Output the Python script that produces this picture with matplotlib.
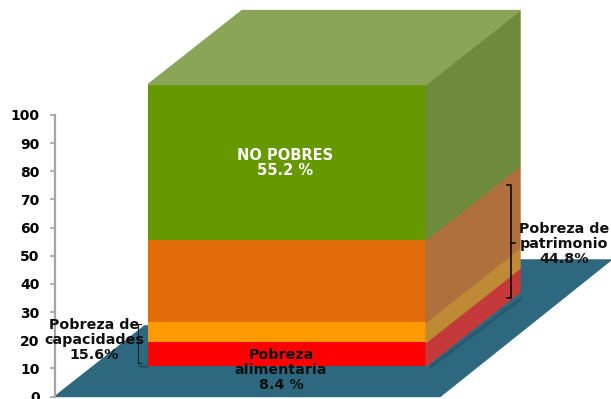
import matplotlib
matplotlib.use("Agg")
import numpy as np
import matplotlib.pyplot as plt
from matplotlib.patches import Polygon

# =====================
# Data
# =====================
segments = ["Pobreza alimentaria", "Pobreza de capacidades", "Pobreza de patrimonio", "No pobres"]
values = [8.4, 7.2, 29.2, 55.2]
y_ticks = [0, 10, 20, 30, 40, 50, 60, 70, 80, 90, 100]

front_colors = ["#ff0000", "#ff9900", "#e36c0a", "#669900"]
side_colors = ["#c43a3a", "#bf8a35", "#b0703e", "#6e8a3c"]
top_color = "#8ba558"
floor_color = "#2d687f"

# =====================
# Figure: the x axis is in pixels, the y axis in percent
# =====================
plt.rcParams["font.family"] = "DejaVu Sans"
plt.rcParams["font.weight"] = "bold"
fig = plt.figure(figsize=(6.11, 3.99), dpi=100)
ax = fig.add_axes([0, 0, 1, 1])
ax.set_xlim(0, 611)
px = 2.815  # pixels per percent
ax.set_ylim(-2.5 / px, (399 - 2.5) / px)

base = 10.8
left, right = 148, 426
dx, dy = 94, 26.3

# floor
floor_top = 48.5
ax.add_patch(Polygon([(55, 0), (55 + (floor_top / dy) * dx, floor_top), (611, floor_top), (440, 0)],
                     closed=True, color=floor_color, zorder=1))

# white area left of the bar, above the floor
ax.add_patch(Polygon([(140, 25.6), (148, 25.6), (148, floor_top), (140, floor_top)],
                     closed=True, color="white", zorder=1))
ax.add_patch(Polygon([(426, floor_top), (520, floor_top), (520, 120), (426, 120)],
                     closed=True, color="white", zorder=0.5))

# soft shadow along the foot of the box
ax.plot([138, 148], [10.8, 10.8], color="#24566a", lw=2, zorder=2, solid_capstyle="butt")
ax.plot([430, 522], [10.4, 35.0], color="#25596d", lw=2, zorder=2, solid_capstyle="butt")

# stacked front face and the side faces
bottom = base
for val, col, side in zip(values, front_colors, side_colors):
    ax.bar(left, val, width=right - left, bottom=bottom, align="edge", color=col, zorder=3)
    ax.add_patch(Polygon([(right, bottom), (right + dx, bottom + dy),
                          (right + dx, bottom + val + dy), (right, bottom + val)],
                         closed=True, color=side, zorder=3))
    bottom += val

ax.add_patch(Polygon([(left, bottom), (right, bottom), (right + dx, bottom + dy), (left + dx, bottom + dy)],
                     closed=True, color=top_color, zorder=3))

# axis
for name in ["top", "right", "bottom"]:
    ax.spines[name].set_visible(False)
ax.spines["left"].set_position(("data", 55))
ax.spines["left"].set_bounds(0, 100)
ax.spines["left"].set_color("#a6a6a6")
ax.spines["left"].set_linewidth(1.6)
ax.spines["left"].set_zorder(2)
ax.set_xticks([])
ax.set_yticks(y_ticks)
ax.set_yticklabels([str(t) for t in y_ticks], fontsize=10, fontweight="bold", color="black")
ax.tick_params(axis="y", length=3.5, width=1.2, color="#a6a6a6", pad=7.5)

# brackets
ax.plot([507, 511, 511, 507], [75.2, 75.2, 35.0, 35.0], color="black", lw=1.1, zorder=4)
ax.plot([511, 515], [54.5, 54.5], color="black", lw=1.1, zorder=4)
ax.plot([141, 138, 138, 141], [25.6, 25.6, 11.8, 11.8], color="#222222", lw=0.8, zorder=4)

# labels
ax.text(285, 83, "NO POBRES\n55.2 %", color="white", fontsize=10.5, ha="center", va="center",
        linespacing=1.05, zorder=5)
ax.text(281, 9.4, "Pobreza\nalimentaria\n8.4 %", color="#101010", fontsize=10.3, ha="center", va="center",
        linespacing=1.1, zorder=5)
ax.text(94, 20, "Pobreza de\ncapacidades\n15.6%", color="#101010", fontsize=10.3, ha="center", va="center",
        linespacing=1.1, zorder=5)
ax.text(564, 54.2, "Pobreza de\npatrimonio\n44.8%", color="#101010", fontsize=10.3, ha="center", va="center",
        linespacing=1.1, zorder=5)

fig.savefig("out.png", dpi=100)
